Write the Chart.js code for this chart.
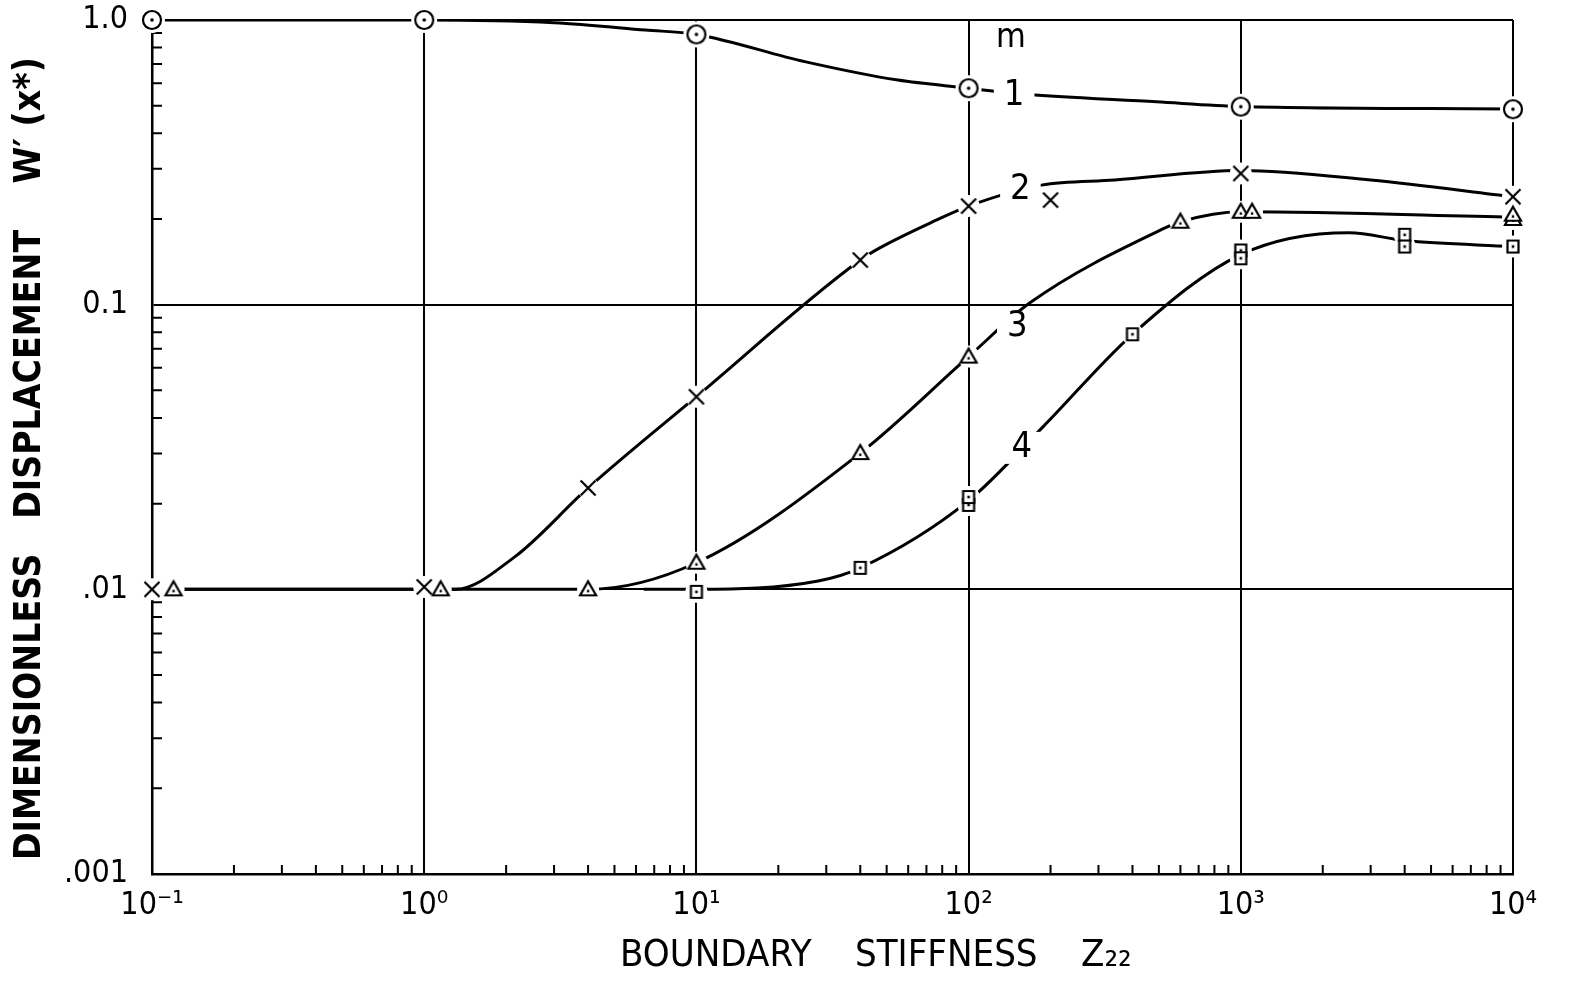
<!DOCTYPE html>
<html>
<head>
<meta charset="utf-8">
<title>Dimensionless displacement vs boundary stiffness</title>
<script src="https://cdn.jsdelivr.net/npm/chart.js@4.4.1/dist/chart.umd.min.js"></script>
<style>
  body { margin: 0; background: #fff; }
  #wrap { width: 1573px; height: 983px; }
</style>
</head>
<body>
<div id="wrap"><canvas id="chart"></canvas></div>
<script>
// axis ticks (decades only, minor ticks are drawn inward by a plugin)
const xTicks = [0.1, 1, 10, 100, 1000, 10000];
const xTickLabels = ["10⁻¹", "10⁰", "10¹", "10²", "10³", "10⁴"];
const yTicks = [0.001, 0.01, 0.1, 1];
const yTickLabels = [".001", ".01", "0.1", "1.0"];

// plotted points, one pair of arrays per mode m
const m1X = [0.1, 1, 10, 100, 1000, 10000];
const m1Y = [1.0, 1.0, 0.89, 0.576, 0.496, 0.486];
const m2X = [0.1, 1, 4, 10, 40, 100, 200, 1000, 10000];
const m2Y = [0.01, 0.0102, 0.0227, 0.0475, 0.1435, 0.222, 0.233, 0.289, 0.2395];
const m3X = [0.12, 1.15, 4, 10, 40, 100, 600, 1000, 1100, 10000, 10000];
const m3Y = [0.01, 0.01, 0.01, 0.0124, 0.0301, 0.0657, 0.1956, 0.212, 0.212, 0.2, 0.207];
const m4X = [10, 40, 100, 100, 400, 1000, 1000, 4000, 4000, 10000];
const m4Y = [0.0098, 0.0119, 0.0198, 0.0211, 0.0787, 0.155, 0.1455, 0.176, 0.16, 0.16];

// faired curves
const c1X = [0.1, 1, 3, 6.5, 10, 25, 55, 100, 145, 490, 1000, 10000];
const c1Y = [1.0, 1.0, 0.978, 0.922, 0.89, 0.714, 0.615, 0.576, 0.553, 0.516, 0.497, 0.487];
const c2X = [0.1, 1.3, 2.15, 4, 10, 40, 47, 76, 100, 185, 344, 1000, 3000, 10000];
const c2Y = [0.01, 0.01, 0.013, 0.0227, 0.0475, 0.1435, 0.158, 0.198, 0.222, 0.263, 0.274, 0.296, 0.274, 0.2395];
const c3X = [0.1, 4, 10, 40, 100, 168, 527, 600, 1000, 10000];
const c3Y = [0.01, 0.01, 0.0124, 0.0301, 0.0657, 0.1015, 0.186, 0.1956, 0.212, 0.203];
const c4X = [6.4, 10, 28, 40, 100, 188, 400, 1000, 2500, 4000, 10000];
const c4Y = [0.01, 0.01, 0.0107, 0.0119, 0.0205, 0.0373, 0.0787, 0.15, 0.179, 0.168, 0.16];

// curve labels
const labelText = ["m", "1", "2", "3", "4"];
const labelX = [143, 147, 155, 151, 157];
const labelY = [0.865, 0.541, 0.253, 0.0835, 0.0314];

const FONT = '"Liberation Sans Narrow", "DejaVu Sans Condensed", "DejaVu Sans", sans-serif';

const pts = (xs, ys) => xs.map((x, i) => ({ x: x, y: ys[i] }));

// little canvases used as point styles
function marker(kind) {
  const c = document.createElement("canvas");
  c.width = 26;
  c.height = 26;
  const g = c.getContext("2d");
  const m = 13;
  g.strokeStyle = "#000";
  g.fillStyle = "#fff";
  g.lineWidth = 2.2;
  g.beginPath();
  if (kind === "circle") {
    g.arc(m, m, 9, 0, Math.PI * 2);
    g.fill(); g.stroke();
    g.fillStyle = "#000";
    g.beginPath(); g.arc(m, m, 1.8, 0, Math.PI * 2); g.fill();
  } else if (kind === "cross") {
    g.moveTo(m - 7.5, m - 7.5); g.lineTo(m + 7.5, m + 7.5);
    g.moveTo(m + 7.5, m - 7.5); g.lineTo(m - 7.5, m + 7.5);
    g.stroke();
  } else if (kind === "triangle") {
    g.moveTo(m, m - 8); g.lineTo(m + 8, m + 6); g.lineTo(m - 8, m + 6); g.closePath();
    g.fill(); g.stroke();
    g.fillStyle = "#000";
    g.fillRect(m - 1.2, m + 0.5, 2.4, 2.4);
  } else {
    g.rect(m - 5.5, m - 6, 11, 12);
    g.fill(); g.stroke();
    g.fillStyle = "#000";
    g.fillRect(m - 1.3, m - 1.3, 2.6, 2.6);
  }
  return c;
}

const curve = (xs, ys) => ({
  type: "line",
  data: pts(xs, ys),
  borderColor: "#000",
  borderWidth: 3,
  pointRadius: 0,
  cubicInterpolationMode: "monotone",
  order: 3
});

const points = (xs, ys, kind) => ({
  type: "scatter",
  data: pts(xs, ys),
  pointStyle: marker(kind),
  pointRadius: 10,
  clip: false,
  order: 1
});

// white halo under each marker so lines break around it, as in the drawing
const haloData = [].concat(pts(m1X, m1Y), pts(m2X, m2Y), pts(m3X, m3Y), pts(m4X, m4Y));
const haloRadius = [].concat(m1X.map(() => 13), m2X.map(() => 11), m3X.map(() => 11), m4X.map(() => 11));

const minorTicks = {
  id: "minorTicks",
  beforeDatasetsDraw(chart) {
    const { ctx, chartArea: a, scales: { x, y } } = chart;
    ctx.save();
    ctx.strokeStyle = "#000";
    ctx.lineWidth = 2;
    ctx.beginPath();
    for (let d = -1; d < 4; d++) {
      for (let k = 2; k < 10; k++) {
        const px = x.getPixelForValue(k * Math.pow(10, d));
        ctx.moveTo(px, a.bottom);
        ctx.lineTo(px, a.bottom - 9);
      }
    }
    for (let d = -3; d < 0; d++) {
      for (let k = 2; k < 10; k++) {
        const py = y.getPixelForValue(k * Math.pow(10, d));
        ctx.moveTo(a.left, py);
        ctx.lineTo(a.left + 10, py);
      }
    }
    ctx.stroke();
    ctx.restore();
  }
};

const curveLabels = {
  id: "curveLabels",
  afterDatasetsDraw(chart) {
    const { ctx, scales: { x, y } } = chart;
    ctx.save();
    ctx.textAlign = "center";
    ctx.textBaseline = "middle";
    labelText.forEach((t, i) => {
      const px = x.getPixelForValue(labelX[i]);
      const py = y.getPixelForValue(labelY[i]);
      ctx.font = (t === "m" ? "34px " : "36px ") + FONT;
      const w = ctx.measureText(t).width;
      if (t !== "m") {
        ctx.fillStyle = "#fff";
        ctx.fillRect(px - w / 2 - 10, py - 16, w + 20, 32);
      }
      ctx.fillStyle = "#000";
      ctx.fillText(t, px, py);
    });
    ctx.restore();
  }
};

new Chart(document.getElementById("chart"), {
  data: {
    datasets: [
      curve(c1X, c1Y),
      curve(c2X, c2Y),
      curve(c3X, c3Y),
      curve(c4X, c4Y),
      {
        type: "scatter",
        data: haloData,
        pointStyle: "circle",
        pointRadius: haloRadius,
        backgroundColor: "#fff",
        borderWidth: 0,
        clip: false,
        order: 2
      },
      points(m1X, m1Y, "circle"),
      points(m2X, m2Y, "cross"),
      points(m3X, m3Y, "triangle"),
      points(m4X, m4Y, "square")
    ]
  },
  options: {
    responsive: true,
    maintainAspectRatio: false,
    animation: false,
    events: [],
    layout: { padding: { top: 0, right: 60, left: 0, bottom: 0 } },
    plugins: { legend: { display: false }, tooltip: { enabled: false } },
    scales: {
      x: {
        type: "logarithmic",
        min: 0.1,
        max: 10000,
        afterBuildTicks: s => { s.ticks = xTicks.map(v => ({ value: v })); },
        afterFit: s => { s.height = 109; s.paddingLeft = 0; s.paddingRight = 0; },
        grid: { color: "#000", lineWidth: 2, drawTicks: false },
        border: { color: "#000", width: 2.5 },
        ticks: {
          autoSkip: false,
          maxRotation: 0,
          padding: 12,
          color: "#000",
          font: { family: FONT, size: 32 },
          callback: (v, i) => xTickLabels[i]
        },
        title: {
          display: true,
          text: "        BOUNDARY    STIFFNESS    Z₂₂",
          color: "#000",
          font: { family: FONT, size: 38 },
          padding: { top: 0, bottom: 4 }
        }
      },
      y: {
        type: "logarithmic",
        min: 0.001,
        max: 1,
        afterBuildTicks: s => { s.ticks = yTicks.map(v => ({ value: v })); },
        afterFit: s => { s.width = 152; s.paddingTop = 20; s.paddingBottom = 0; },
        grid: { color: "#000", lineWidth: 2, drawTicks: false },
        border: { color: "#000", width: 2.5 },
        ticks: {
          autoSkip: false,
          padding: 24,
          color: "#000",
          font: { family: FONT, size: 32 },
          callback: (v, i) => yTickLabels[i]
        },
        title: {
          display: true,
          text: "DIMENSIONLESS   DISPLACEMENT    W′ (x*)  ",
          color: "#000",
          font: { family: FONT, size: 37, weight: "bold" },
          padding: { top: 8, bottom: 0 }
        }
      }
    }
  },
  plugins: [minorTicks, curveLabels]
});
</script>
</body>
</html>
